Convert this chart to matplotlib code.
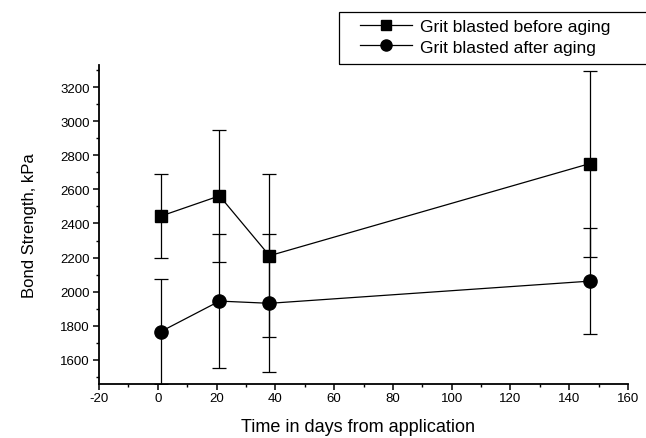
import matplotlib.pyplot as plt
from matplotlib.patches import Rectangle
from matplotlib.ticker import MultipleLocator

plt.rcParams['font.family'] = ['Liberation Sans', 'DejaVu Sans']
plt.rcParams['axes.unicode_minus'] = False

# Data
days = [1, 21, 38, 147]
before_aging = [2443, 2562, 2211, 2751]
before_err = [248, 385, 477, 545]
after_aging = [1766, 1945, 1932, 2062]
after_err = [308, 395, 405, 312]
labels = ['Grit blasted before aging', 'Grit blasted after aging']

fig = plt.figure(figsize=(6.46, 4.39), dpi=100)
ax = fig.add_axes([99 / 646, 1 - 385 / 439, 529 / 646, 319 / 439])

l1 = ax.errorbar(days, before_aging, yerr=before_err, color='black', marker='s',
                 markersize=8.5, linewidth=0.9, elinewidth=0.9, capsize=5,
                 capthick=0.9)
l2 = ax.errorbar(days, after_aging, yerr=after_err, color='black', marker='o',
                 markersize=9.5, linewidth=0.9, elinewidth=0.9, capsize=5,
                 capthick=0.9)

ax.set_xlim(-20, 160)
ax.set_ylim(1459, 3329)
ax.xaxis.set_major_locator(MultipleLocator(20))
ax.xaxis.set_minor_locator(MultipleLocator(10))
ax.yaxis.set_major_locator(MultipleLocator(200))
ax.yaxis.set_minor_locator(MultipleLocator(100))

for s in ['top', 'right']:
    ax.spines[s].set_visible(False)
for s in ['left', 'bottom']:
    ax.spines[s].set_linewidth(1.3)

ax.tick_params(which='major', direction='out', length=4.5, width=1.1,
               labelsize=9.5, pad=2)
ax.tick_params(which='minor', direction='out', length=2.5, width=1.0)
ax.tick_params(axis='x', pad=1)

ax.set_xlabel('Time in days from application', fontsize=13)
ax.xaxis.set_label_coords(0.49, -0.108)
ax.set_ylabel('Bond Strength, kPa', fontsize=12)
ax.yaxis.set_label_coords(-0.117, 0.5)

# legend box running off the right edge, as in the original
fig.patches.append(Rectangle((339 / 646, 1 - 65 / 439), 320 / 646, 52 / 439,
                             transform=fig.transFigure, fill=False,
                             edgecolor='black', linewidth=0.9))
leg = fig.legend(handles=[l1[0], l2[0]], labels=labels, loc='upper left',
                 bbox_to_anchor=(360 / 646, 1 - 20 / 439), fontsize=12.5,
                 frameon=False, borderpad=0, labelspacing=0.3,
                 handlelength=3.0, handletextpad=0.45, borderaxespad=0)
leg.legend_handles[0].set_markersize(7.5)
leg.legend_handles[1].set_markersize(8)

fig.savefig('out.png', dpi=100)
